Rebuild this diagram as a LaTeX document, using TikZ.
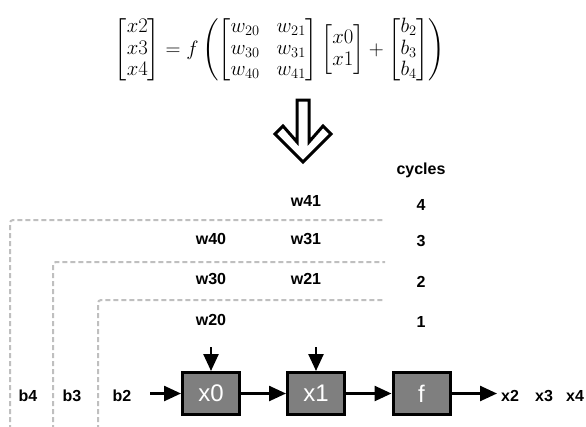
\documentclass[tikz,border=0pt]{standalone}
\usepackage{amsmath}
\usepackage{fontspec}
\newfontfamily\lsans{Liberation Sans}
\usetikzlibrary{arrows.meta}
\definecolor{boxgray}{HTML}{7F7F7F}
\definecolor{dashgray}{HTML}{BFBFBF}
\begin{document}
\begin{tikzpicture}[x=1pt,y=-1pt,
  lbl/.style={font=\lsans\bfseries\fontsize{16}{18}\selectfont, inner sep=0pt},
  blk/.style={draw=black, line width=3pt, fill=boxgray, minimum width=57pt, minimum height=42pt, inner sep=0pt, font=\lsans\fontsize{24}{28}\selectfont, text=white},
  flow/.style={line width=2.5pt, -{Triangle[length=17pt,width=15pt]}},
  guide/.style={draw=dashgray, line width=2pt, dash pattern=on 5pt off 3pt, rounded corners=3pt}]
\useasboundingbox (0,0) rectangle (586,426);

% equation
\node[inner sep=0pt, font=\fontsize{20.74}{21.5}\selectfont] (eq) at (280,50) {\setlength{\arraycolsep}{8.5pt}$\begin{bmatrix}x2\\x3\\x4\end{bmatrix} = f\left(\begin{bmatrix}w_{20} & w_{21}\\ w_{30} & w_{31}\\ w_{40} & w_{41}\end{bmatrix}\begin{bmatrix}x0\\x1\end{bmatrix} + \begin{bmatrix}b_2\\b_3\\b_4\end{bmatrix}\right)$};

% big hollow arrow
\draw[line width=3pt, line join=miter] (297,100) -- (309,100) -- (309,142) -- (323,126) -- (331,134) -- (303,162) -- (275,134) -- (283,126) -- (297,142) -- cycle;

% dashed guides
\draw[guide] (10,430) -- (10,220) -- (385,220);
\draw[guide] (53,430) -- (53,262) -- (385,262);
\draw[guide] (98,430) -- (98,300) -- (385,300);

% cycles
\node[lbl] (cyc) at (421,170) {cycles};
\node[lbl] (c4) at (421,205) {4};
\node[lbl] (c3) at (421,241) {3};
\node[lbl] (c2) at (421,282) {2};
\node[lbl] (c1) at (421,322) {1};

% weights
\node[lbl] (w41) at (306,201) {w41};
\node[lbl] (w40) at (211,239) {w40};
\node[lbl] (w31) at (306,239) {w31};
\node[lbl] (w30) at (211,279) {w30};
\node[lbl] (w21) at (306,279) {w21};
\node[lbl] (w20) at (211,320) {w20};

% biases
\node[lbl] (b4) at (28,396) {b4};
\node[lbl] (b3) at (72,396) {b3};
\node[lbl] (b2) at (122,396) {b2};

% blocks
\node[blk] (x0) at (211,393.5) {x0};
\node[blk] (x1) at (316,393.5) {x1};
\node[blk] (f) at (421.5,393.5) {f};

% outputs
\node[lbl] (x2) at (510,396) {x2};
\node[lbl] (x3) at (544,396) {x3};
\node[lbl] (x4) at (575,396) {x4};

\coordinate (bin) at (150,393.5);
\coordinate (d0) at (211,347);
\coordinate (d1) at (316,347);
\coordinate (out) at (497,393.5);

\draw[flow] (bin) -- (x0);
\draw[flow] (x0) -- (x1);
\draw[flow] (x1) -- (f);
\draw[flow] (f) -- (out);
\draw[flow] (d0) -- (x0.north);
\draw[flow] (d1) -- (x1.north);
\end{tikzpicture}
\end{document}
